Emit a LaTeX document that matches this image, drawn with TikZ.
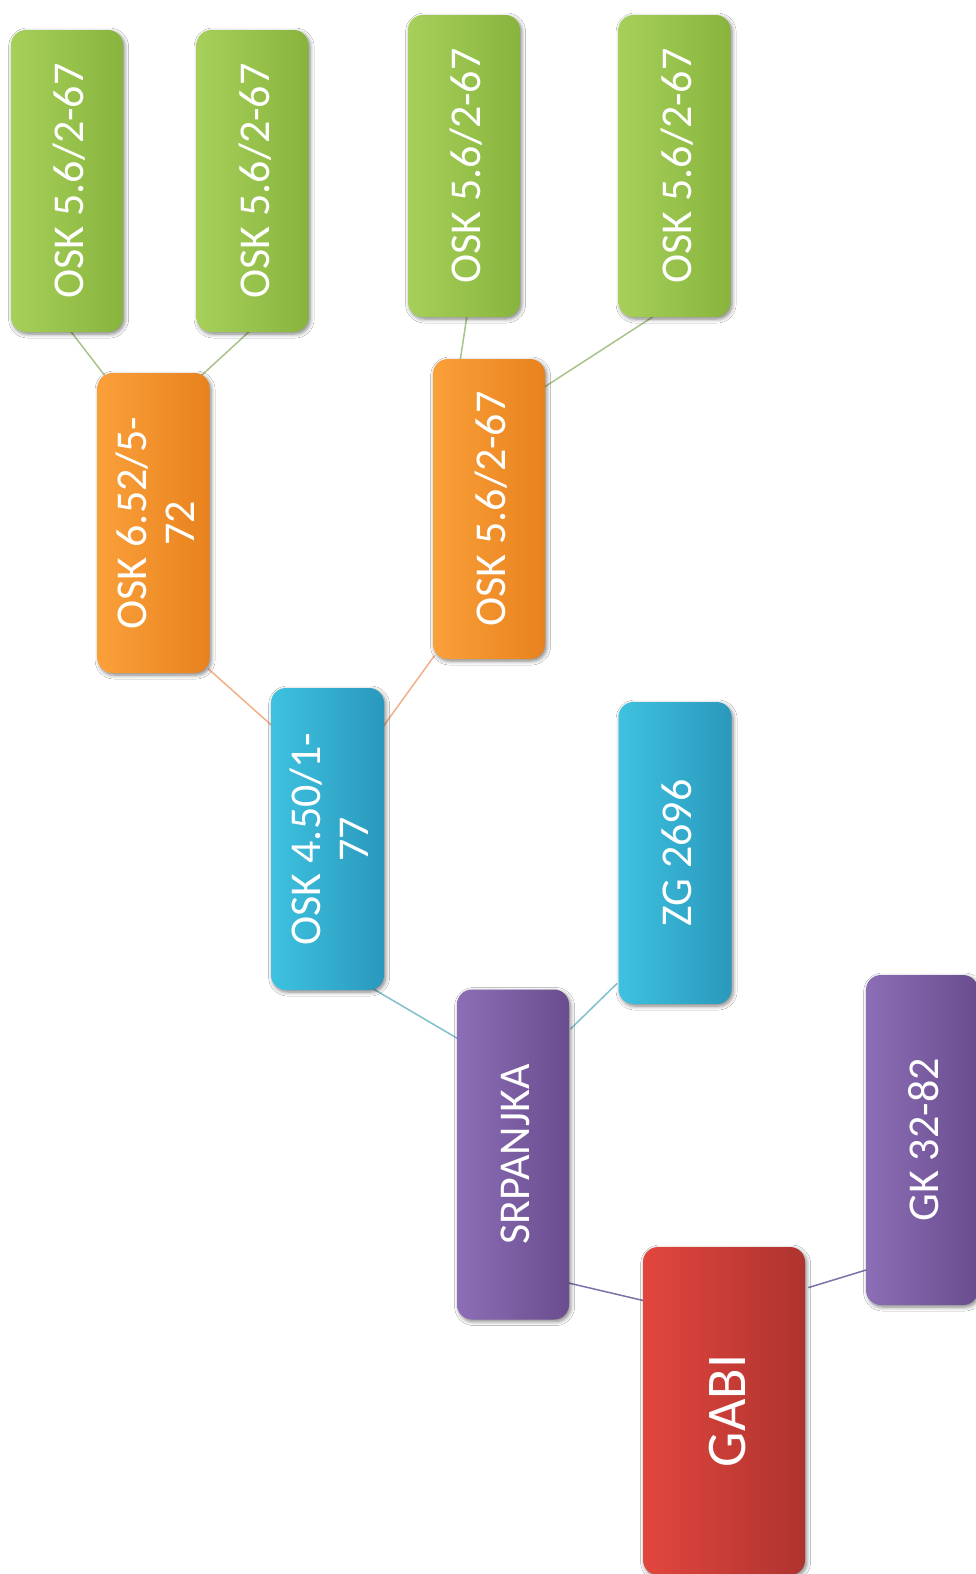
\documentclass[tikz,border=0pt]{standalone}
\usepackage{fontspec}
\setmainfont{Carlito}
\usetikzlibrary{calc,backgrounds,shadows.blur}
\definecolor{gL}{HTML}{A6D05A}\definecolor{gR}{HTML}{88B43E}
\definecolor{oL}{HTML}{FAA03A}\definecolor{oR}{HTML}{E8821E}
\definecolor{bL}{HTML}{3EC2E0}\definecolor{bR}{HTML}{2A98BC}
\definecolor{pL}{HTML}{8C6EB6}\definecolor{pR}{HTML}{694D8E}
\definecolor{rL}{HTML}{E2463E}\definecolor{rR}{HTML}{AE332F}
\definecolor{lnG}{HTML}{A9C38A}\definecolor{lnO}{HTML}{F0B088}
\definecolor{lnB}{HTML}{80BFCC}\definecolor{lnP}{HTML}{7A72A8}
\tikzset{
  box/.style={rounded corners=7.5pt, inner sep=0pt, text=white,
    font=\fontsize{22}{24}\selectfont, align=center,
    blur shadow={shadow xshift=0.8pt, shadow yshift=-1pt, shadow opacity=50, shadow blur steps=5, shadow blur radius=2pt}},
  gbox/.style={box, left color=gL, right color=gR, minimum width=56pt, minimum height=151pt},
  obox/.style={box, left color=oL, right color=oR, minimum width=56pt, minimum height=150pt},
  bbox/.style={box, left color=bL, right color=bR, minimum width=56.5pt, minimum height=151pt},
  pbox/.style={box, left color=pL, right color=pR, minimum width=56pt, minimum height=165pt},
  rbox/.style={box, left color=rL, right color=rR, minimum width=81pt, minimum height=164pt,
    font=\fontsize{28}{30}\selectfont},
  conn/.style={line width=0.75pt}
}
\newcommand{\vtext}[2][7pt]{\hspace*{#1}\rotatebox{90}{\begin{tabular}{@{}c@{}}#2\end{tabular}}}
\begin{document}
\begin{tikzpicture}[x=0.5pt, y=-0.5pt]
\useasboundingbox (0,0) rectangle (975,1574);
% nodes
\node[gbox] (g1) at (67,181) {\vtext{OSK 5.6/2-67}};
\node[gbox] (g2) at (252.5,181) {\vtext{OSK 5.6/2-67}};
\node[gbox] (g3) at (464,166) {\vtext{OSK 5.6/2-67}};
\node[gbox] (g4) at (674.5,166) {\vtext{OSK 5.6/2-67}};
\node[obox] (o1) at (153.5,523) {\vtext{OSK 6.52/5-\\72}};
\node[obox] (o2) at (489,509) {\vtext{OSK 5.6/2-67}};
\node[bbox] (b1) at (327.5,839) {\vtext{OSK 4.50/1-\\77}};
\node[bbox] (b2) at (675,853) {\vtext{ZG 2696}};
\node[pbox] (p1) at (513,1154.5) {\vtext{SRPANJKA}};
\node[pbox] (p2) at (922,1140) {\vtext{GK 32-82}};
\node[rbox] (r) at (724,1411) {\vtext[9pt]{GABI}};
% connectors
\begin{pgfonlayer}{background}
\fill[white] (0,0) rectangle (975,1574);
\draw[conn, lnG] ($(g1.south)+(3,-2)$) -- ($(o1.north west)+(10,6)$);
\draw[conn, lnG] ($(g2.south)+(-2,-2)$) -- ($(o1.north east)+(-14,8)$);
\draw[conn, lnG] ($(g3.south)+(3,-2)$) -- ($(o2.north)+(-29,3)$);
\draw[conn, lnG] ($(g4.south)+(-21,-1)$) -- ($(o2.north east)+(-5,31)$);
\draw[conn, lnO] ($(o1.south east)+(-2,-5)$) -- ($(b1.north west)+(8,44)$);
\draw[conn, lnO] ($(o2.south west)+(2,-4)$) -- ($(b1.north east)+(-2,40)$);
\draw[conn, lnB] ($(b1.south east)+(-12,-2)$) -- ($(p1.north west)+(2,50)$);
\draw[conn, lnB] ($(b2.south west)+(-1,-21)$) -- ($(p1.north east)+(1,40)$);
\draw[conn, lnP] ($(p1.south east)+(-31,-44)$) -- ($(r.north west)+(1,54)$);
\draw[conn, lnP] ($(r.north east)+(3,41)$) -- ($(p2.south west)+(9,-38)$);
\end{pgfonlayer}
\end{tikzpicture}
\end{document}
